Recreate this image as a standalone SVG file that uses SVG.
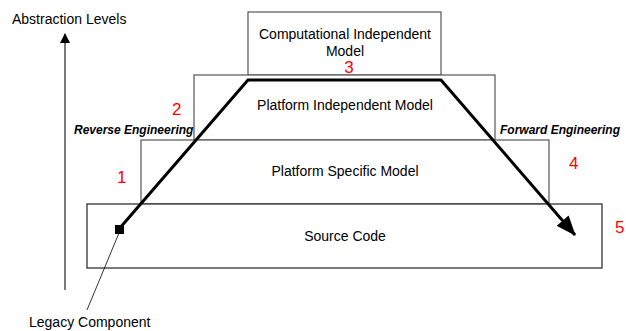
<svg xmlns="http://www.w3.org/2000/svg" width="626" height="331" viewBox="0 0 626 331">
<defs>
<style>
.box{fill:#fff;stroke:#555;stroke-width:1.2}
.t{font-family:"Liberation Sans",Arial,sans-serif;font-size:14px;fill:#000}
.c{text-anchor:middle}
.n{font-family:"Liberation Sans",Arial,sans-serif;font-size:17px;fill:#f00}
.e{font-family:"Liberation Sans",Arial,sans-serif;font-size:12px;font-weight:bold;font-style:italic;fill:#000}
</style>
<marker id="ah" markerWidth="10" markerHeight="10" refX="9" refY="5" orient="auto" markerUnits="userSpaceOnUse" viewBox="0 0 10 10">
<path d="M0,0 L10,5 L0,10 z" fill="#000"/>
</marker>
<marker id="big" markerWidth="20" markerHeight="16" refX="19" refY="8" orient="auto" markerUnits="userSpaceOnUse" viewBox="0 0 20 16">
<path d="M0,0 L20,8 L0,16 z" fill="#000"/>
</marker>
</defs>
<rect width="626" height="331" fill="#fff"/>
<g id="cim"><rect class="box" x="248" y="12" width="193" height="63"/>
<text class="t c" x="345" y="39">Computational Independent</text>
<text class="t c" x="345" y="56">Model</text></g>
<g id="pim"><rect class="box" x="194" y="75" width="301" height="65"/>
<text class="t c" x="345" y="110">Platform Independent Model</text></g>
<g id="psm"><rect class="box" x="141" y="140" width="408" height="64"/>
<text class="t c" x="345" y="176">Platform Specific Model</text></g>
<g id="src"><rect class="box" x="87" y="204" width="515" height="64" style="stroke:#222"/>
<text class="t c" x="345" y="241">Source Code</text></g>
<g id="axis"><line x1="65" y1="290" x2="65" y2="34" stroke="#222" stroke-width="1.2" marker-end="url(#ah)"/>
<text class="t" x="12" y="24">Abstraction Levels</text></g>
<g id="connectors">
<polyline points="119,229 248,80 441,80 575,235" fill="none" stroke="#000" stroke-width="3" marker-end="url(#big)"/>
<line x1="119" y1="233" x2="87" y2="310" stroke="#000" stroke-width="0.8"/>
</g>
<g id="legacy"><rect x="115" y="225" width="9" height="9" fill="#000"/>
<text class="t" x="29" y="327">Legacy Component</text></g>
<g id="labels">
<text class="e" x="74" y="134">Reverse Engineering</text>
<text class="e" x="500" y="134">Forward Engineering</text>
<text class="n" x="117" y="183">1</text>
<text class="n" x="172" y="115">2</text>
<text class="n c" x="349" y="73">3</text>
<text class="n" x="569" y="169">4</text>
<text class="n" x="615" y="233">5</text>
</g>
</svg>
